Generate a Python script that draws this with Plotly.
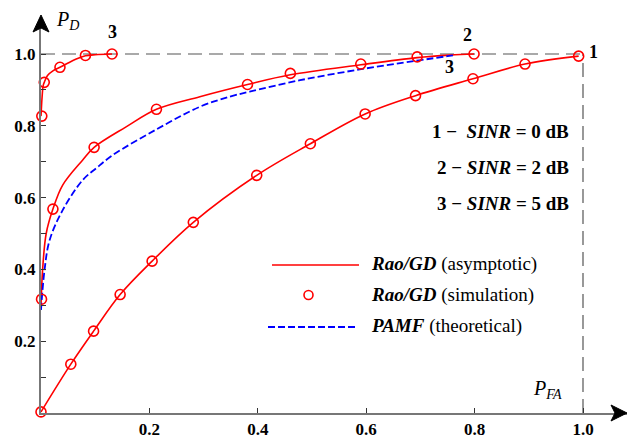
import plotly.graph_objects as go

# ---------------- data ----------------
# SINR = 0 dB  (curve 1)
sim1_x = [0.0, 0.055, 0.097, 0.146, 0.205, 0.281, 0.398, 0.497, 0.598, 0.691, 0.797, 0.893, 0.992]
sim1_y = [0.003, 0.136, 0.228, 0.330, 0.423, 0.531, 0.662, 0.750, 0.833, 0.884, 0.931, 0.972, 0.994]
asy1_x = [0.0, 0.055, 0.097, 0.146, 0.205, 0.281, 0.398, 0.497, 0.598, 0.691, 0.797, 0.893, 0.992]
asy1_y = [0.003, 0.136, 0.228, 0.330, 0.423, 0.531, 0.662, 0.750, 0.833, 0.884, 0.931, 0.972, 0.994]

# SINR = 2 dB  (curve 2)
sim2_x = [0.001, 0.022, 0.098, 0.213, 0.381, 0.460, 0.590, 0.694, 0.799]
sim2_y = [0.317, 0.568, 0.740, 0.846, 0.915, 0.946, 0.972, 0.992, 1.000]
asy2_x = [0.0, 0.003, 0.0096, 0.022, 0.040, 0.077, 0.098, 0.157, 0.213, 0.293, 0.381, 0.460, 0.590, 0.694, 0.755, 0.799]
asy2_y = [0.300, 0.400, 0.500, 0.568, 0.635, 0.705, 0.740, 0.797, 0.846, 0.881, 0.915, 0.942, 0.970, 0.990, 0.997, 1.000]

# SINR = 5 dB  (curve 3)
sim3_x = [0.0015, 0.006, 0.035, 0.082, 0.131]
sim3_y = [0.827, 0.921, 0.963, 0.996, 1.000]
asy3_x = [0.0, 0.002, 0.004, 0.006, 0.012, 0.022, 0.035, 0.050, 0.065, 0.082, 0.100, 0.131]
asy3_y = [0.827, 0.880, 0.912, 0.921, 0.940, 0.953, 0.963, 0.975, 0.986, 0.995, 0.998, 1.000]

# PAMF (theoretical)
pamf_x = [0.0, 0.0065, 0.016, 0.040, 0.077, 0.102, 0.132, 0.213, 0.293, 0.348, 0.385, 0.478, 0.588, 0.692, 0.750, 0.764]
pamf_y = [0.287, 0.398, 0.482, 0.565, 0.649, 0.682, 0.718, 0.790, 0.853, 0.881, 0.895, 0.927, 0.957, 0.981, 0.994, 0.997]

tick_vals = [0.2, 0.4, 0.6, 0.8, 1.0]
tick_text = ["<b>0.2</b>", "<b>0.4</b>", "<b>0.6</b>", "<b>0.8</b>", "<b>1.0</b>"]
minor_y = [0.1, 0.3, 0.5, 0.7, 0.9]

legend_labels = ["<b><i>Rao/GD</i></b> (asymptotic)",
                 "<b><i>Rao/GD</i></b> (simulation)",
                 "<b><i>PAMF</i></b> (theoretical)"]
sinr_labels = ["<b>1 \u2212  <i>SINR</i> = 0 dB</b>",
               "<b>2 \u2212 <i>SINR</i> = 2 dB</b>",
               "<b>3 \u2212 <i>SINR</i> = 5 dB</b>"]

# ---------------- figure ----------------
RED = "#ff0000"
BLUE = "#0000ff"
FONT = "Liberation Serif, Times New Roman, serif"

W, H = 631, 438
ML, MR, MT, MB = 41, 4, 18, 25
PW, PH = W - ML - MR, H - MT - MB
XMAX = PW / 542.0
YMAX = PH / 359.0


def px2paper(px, py):
    return (px - ML) / PW, (H - MB - py) / PH


fig = go.Figure()

line_style = dict(color=RED, width=1.6)
marker_style = dict(symbol="circle-open", size=10, color=RED, line=dict(width=1.6, color=RED))

for ax_, ay_ in [(asy1_x, asy1_y), (asy2_x, asy2_y), (asy3_x, asy3_y)]:
    fig.add_trace(go.Scatter(x=ax_, y=ay_, mode="lines", line=line_style,
                             line_shape="spline", showlegend=False, hoverinfo="skip"))
fig.add_trace(go.Scatter(x=pamf_x, y=pamf_y, mode="lines",
                         line=dict(color=BLUE, width=1.8, dash="7px,3px"),
                         line_shape="spline", showlegend=False))
for sx, sy in [(sim1_x, sim1_y), (sim2_x, sim2_y), (sim3_x, sim3_y)]:
    fig.add_trace(go.Scatter(x=sx, y=sy, mode="markers", marker=marker_style,
                             showlegend=False, cliponaxis=False))

shapes = []
shapes.append(dict(type="line", xref="x", yref="y", x0=0, x1=1, y0=1, y1=1,
                   line=dict(color="#555555", width=1.2, dash="14px,7px"), layer="below"))
shapes.append(dict(type="line", xref="x", yref="y", x0=1, x1=1, y0=0, y1=1,
                   line=dict(color="#555555", width=1.2, dash="14px,7px"), layer="below"))

# custom legend samples
lx0, ly = px2paper(272, 265)
lx1, _ = px2paper(359, 265)
shapes.append(dict(type="line", xref="paper", yref="paper", x0=lx0, x1=lx1, y0=ly, y1=ly,
                   line=dict(color=RED, width=1.6)))
cx0, cy0 = px2paper(304, 299.5)
cx1, cy1 = px2paper(313, 290.5)
shapes.append(dict(type="circle", xref="paper", yref="paper", x0=cx0, x1=cx1, y0=cy0, y1=cy1,
                   line=dict(color=RED, width=1.6)))
bx0, by = px2paper(268, 327)
bx1, _ = px2paper(357, 327)
shapes.append(dict(type="line", xref="paper", yref="paper", x0=bx0, x1=bx1, y0=by, y1=by,
                   line=dict(color=BLUE, width=1.8, dash="7px,3px")))


def arrow_path(pts):
    parts = []
    for i, (px, py) in enumerate(pts):
        x, y = px2paper(px, py)
        parts.append(("M" if i == 0 else "L") + f"{x:.5f},{y:.5f}")
    return " ".join(parts) + " Z"


shapes.append(dict(type="path", xref="paper", yref="paper",
                   path=arrow_path([(627, 413), (611, 405), (615, 413), (611, 421)]),
                   fillcolor="black", line=dict(color="black", width=1)))
shapes.append(dict(type="path", xref="paper", yref="paper",
                   path=arrow_path([(41, 15), (33, 32), (41, 28), (49, 32)]),
                   fillcolor="black", line=dict(color="black", width=1)))

annotations = []
for lab, py in zip(legend_labels, [264, 295, 326]):
    tx, ty = px2paper(369, py)
    annotations.append(dict(text=lab, xref="paper", yref="paper", x=tx, y=ty,
                            xanchor="left", yanchor="middle", showarrow=False,
                            font=dict(family=FONT, size=19, color="black")))

for lab, py in zip(sinr_labels, [131, 167, 203]):
    tx, ty = px2paper(571, py)
    annotations.append(dict(text=lab, xref="paper", yref="paper", x=tx, y=ty,
                            xanchor="right", yanchor="middle", showarrow=False,
                            font=dict(family=FONT, size=19, color="black")))

for lab, x, y in [("3", 0.132, 1.061), ("2", 0.786, 1.053), ("3", 0.753, 0.965), ("1", 1.02, 1.006)]:
    annotations.append(dict(text="<b>" + lab + "</b>", xref="x", yref="y", x=x, y=y,
                            xanchor="center", yanchor="middle", showarrow=False,
                            font=dict(family=FONT, size=18, color="black")))

tx, ty = px2paper(54, 20)
annotations.append(dict(text="<i>P</i><sub><i>D</i></sub>", xref="paper", yref="paper",
                        x=tx, y=ty, xanchor="left", yanchor="middle", showarrow=False,
                        font=dict(family=FONT, size=20, color="black")))
tx, ty = px2paper(531, 389)
annotations.append(dict(text="<i>P</i><sub><i>FA</i></sub>", xref="paper", yref="paper",
                        x=tx, y=ty, xanchor="left", yanchor="middle", showarrow=False,
                        font=dict(family=FONT, size=20, color="black")))

axis_common = dict(showgrid=False, zeroline=False, showline=True, linecolor="#777777",
                   linewidth=2, ticks="inside", ticklen=5, tickwidth=1, tickcolor="#333333",
                   tickvals=tick_vals, ticktext=tick_text,
                   tickfont=dict(family=FONT, size=17, color="black"))

fig.update_layout(
    width=W, height=H,
    template="none",
    margin=dict(l=ML, r=MR, t=MT, b=MB, pad=0),
    paper_bgcolor="white", plot_bgcolor="white",
    showlegend=False,
    xaxis=dict(range=[0, XMAX], **axis_common),
    yaxis=dict(range=[0, YMAX],
               minor=dict(tickvals=minor_y, ticks="inside", ticklen=5,
                          tickcolor="#333333", tickwidth=1),
               **axis_common),
    shapes=shapes,
    annotations=annotations,
    font=dict(family=FONT, size=17, color="black"),
)

fig.write_html("out.html", include_plotlyjs=True,
               config={"displayModeBar": False},
               post_script="document.body.style.margin='0';document.body.style.overflow='hidden';")
